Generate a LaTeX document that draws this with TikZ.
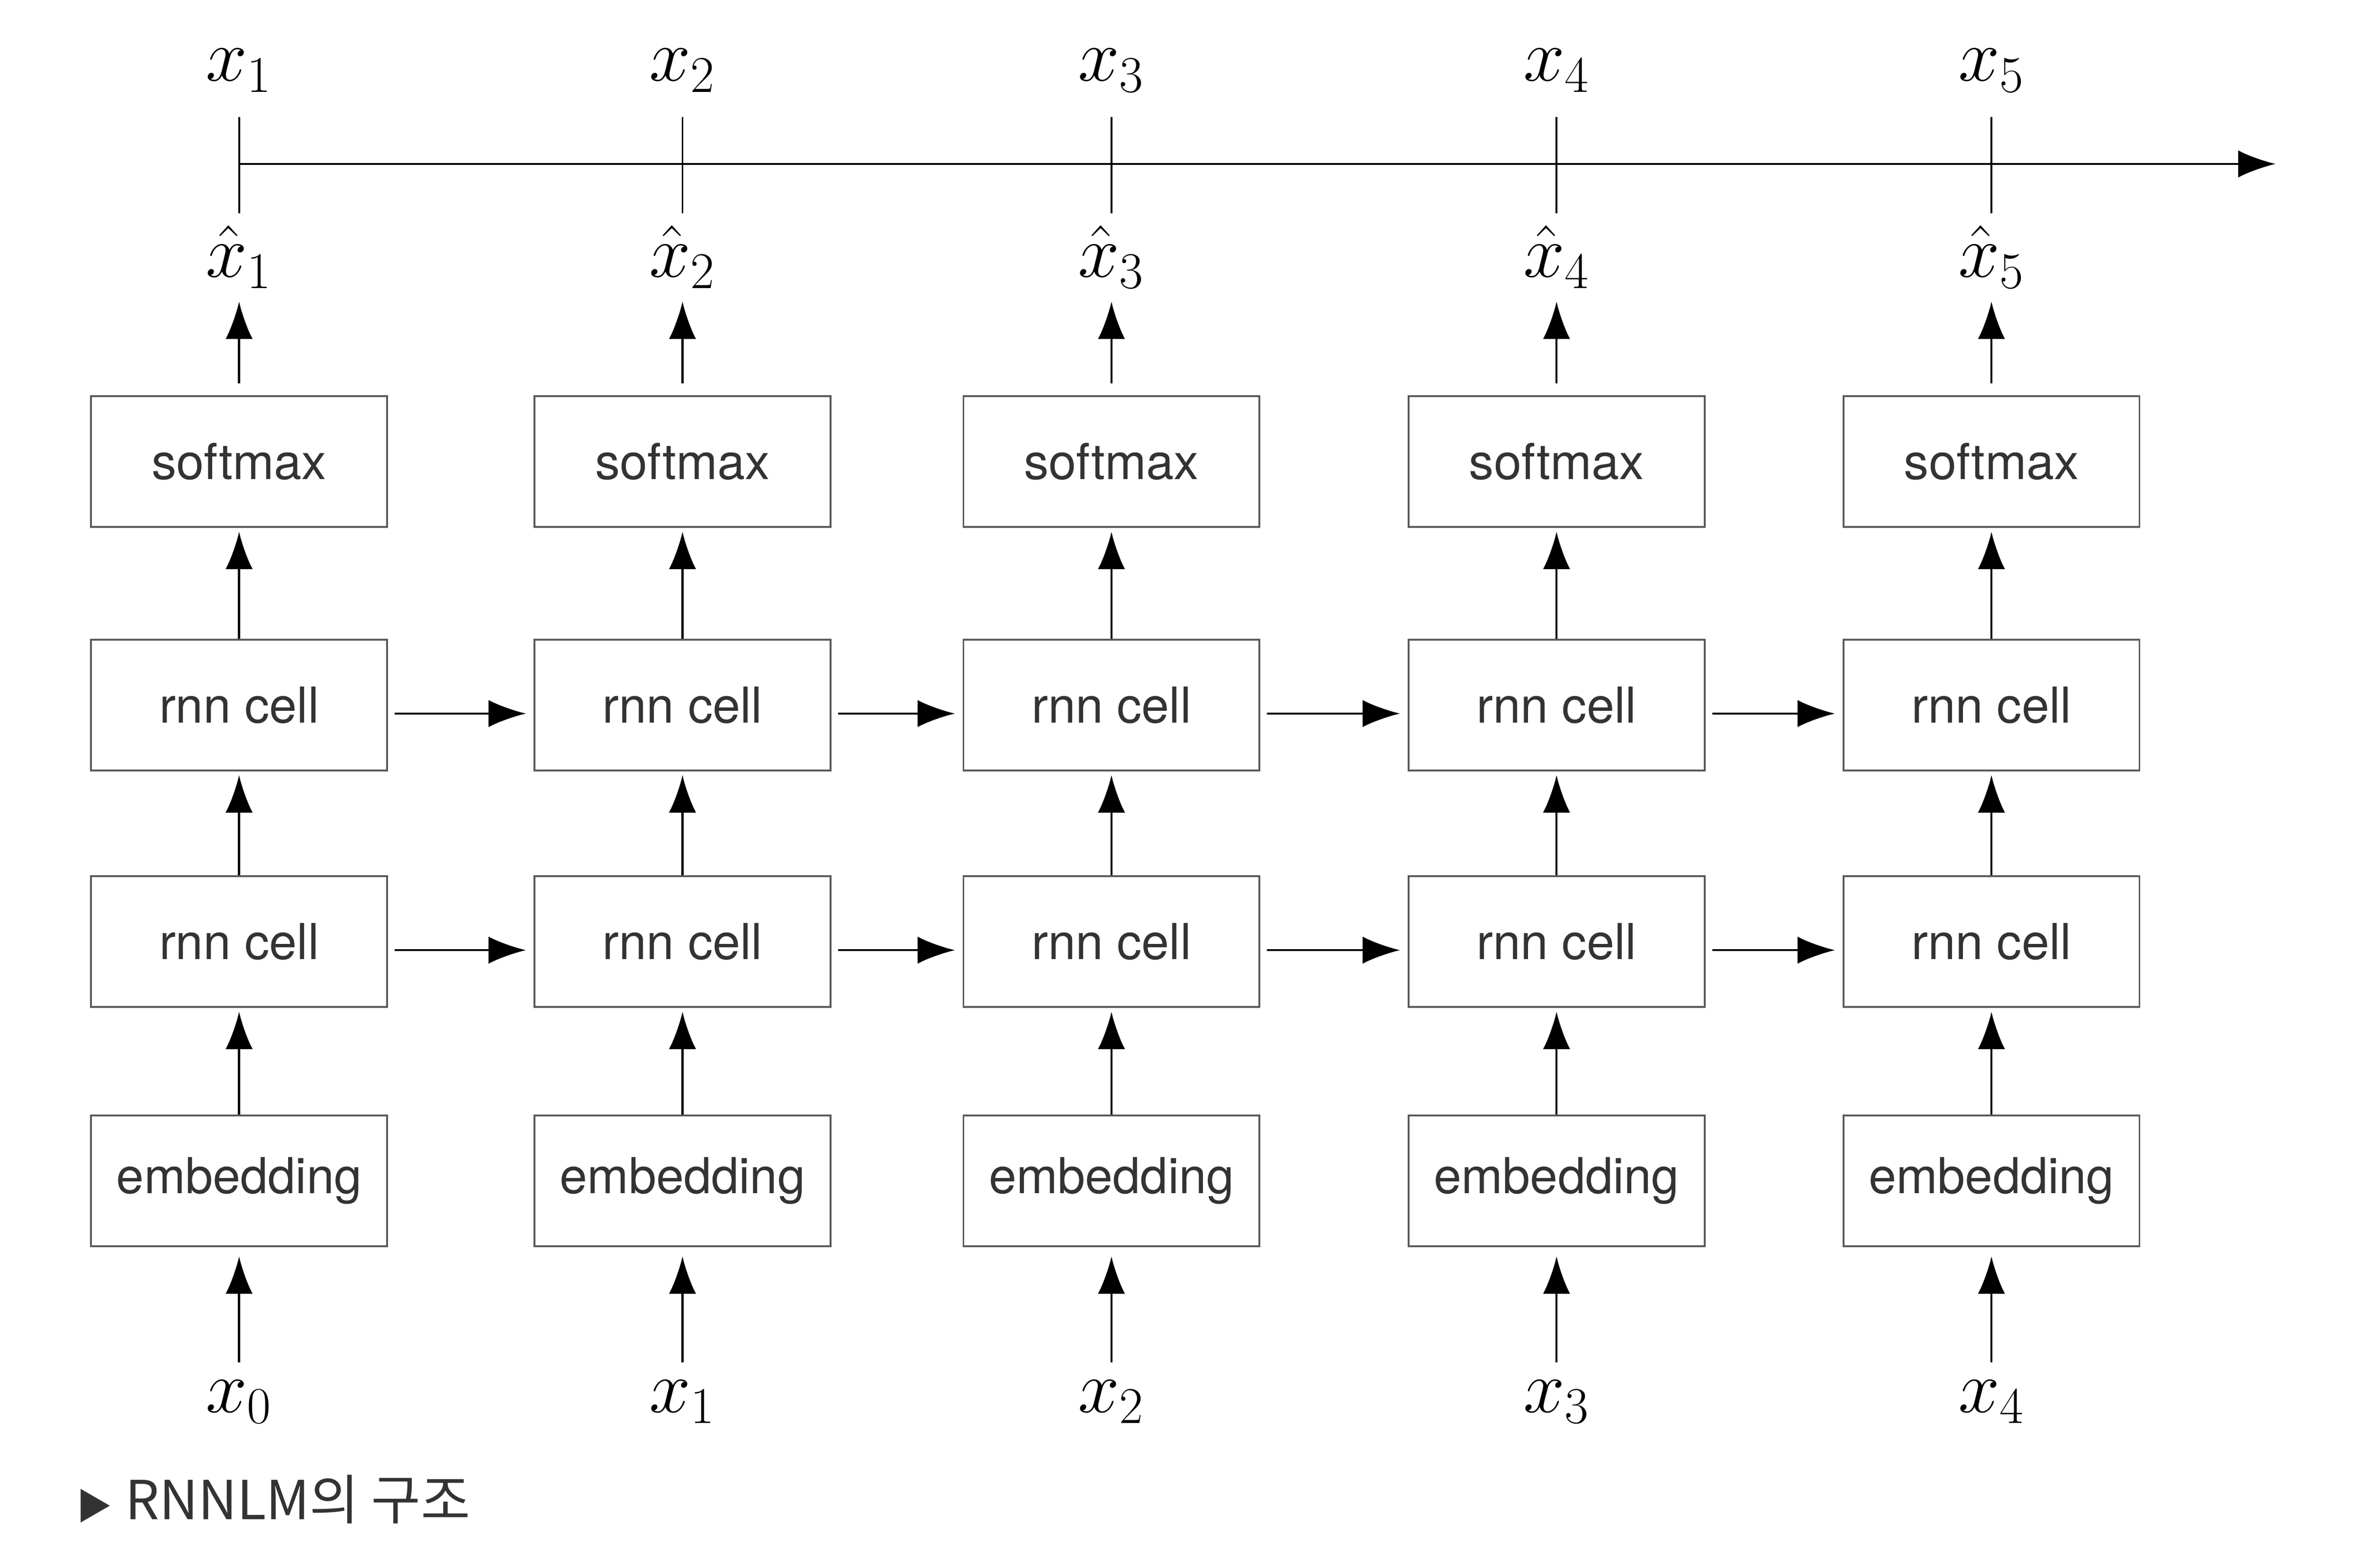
\documentclass[tikz,border=0pt]{standalone}
\usepackage{fontspec}
\setsansfont{TeX Gyre Heros}
\newfontfamily\kofont{Noto Sans CJK KR}
\usepackage{tikz}
\usetikzlibrary{positioning,calc,arrows.meta}

\begin{document}
\begin{tikzpicture}[
    box/.style={draw=black!65, line width=0.6pt, minimum width=3.485cm, minimum height=1.54cm, inner sep=0pt, font=\sffamily\fontsize{16.6}{19}\selectfont, text=black!80},
    lbl/.style={inner sep=0pt, font=\fontsize{23}{27}\selectfont},
    arr/.style={-{Latex[length=0.44cm,width=0.32cm]}, line width=0.7pt}
]
    \useasboundingbox (0,0) rectangle (27.89,18.455);

    % Columns
    \foreach \i/\xx in {1/2.815, 2/8.035, 3/13.085, 4/18.325, 5/23.445} {
        \node[box] (sm\i) at (\xx,13.02) {softmax};
        \node[box] (rb\i) at (\xx,10.155) {rnn cell};
        \node[box] (ra\i) at (\xx,7.37) {rnn cell};
        \node[box] (emb\i) at (\xx,4.555) {embedding};
        \pgfmathtruncatemacro{\j}{\i-1}
        \node[lbl] (in\i) at (\xx,1.955) {$x_{\j}$};
        \node[lbl] (hx\i) at (\xx,15.43) {$\hat{x}_{\i}$};
        \node[lbl] (xt\i) at (\xx,17.625) {$x_{\i}$};
        \coordinate (t\i) at (\xx,16.525);
    }

    % Upward arrows
    \foreach \i in {1,...,5} {
        \draw[arr, shorten <=0.2cm, shorten >=0.11cm] (in\i.north) -- (emb\i.south);
        \draw[arr, shorten >=0.045cm] (emb\i.north) -- (ra\i.south);
        \draw[arr, shorten >=0.045cm] (ra\i.north) -- (rb\i.south);
        \draw[arr, shorten >=0.045cm] (rb\i.north) -- (sm\i.south);
        \draw[arr, shorten <=0.14cm, shorten >=0.15cm] (sm\i.north) -- (hx\i.south);
    }

    % Recurrent arrows
    \foreach \i [evaluate=\i as \n using int(\i+1)] in {1,...,4} {
        \draw[arr, shorten <=0.08cm, shorten >=0.09cm] ([yshift=-0.1cm]ra\i.east) -- ([yshift=-0.1cm]ra\n.west);
        \draw[arr, shorten <=0.08cm, shorten >=0.09cm] ([yshift=-0.1cm]rb\i.east) -- ([yshift=-0.1cm]rb\n.west);
    }

    % Time axis
    \coordinate (tend) at (26.79,16.525);
    \draw[arr] (t1) -- (tend);
    \foreach \i in {1,...,5}
        \draw[line width=0.6pt] ([yshift=0.55cm]t\i) -- ([yshift=-0.58cm]t\i);

    % Caption
    \node[anchor=west, inner sep=0pt, font=\kofont\fontsize{18}{21}\selectfont, text=black!80] (cap) at (0.895,0.805)
        {{\fontsize{12}{14}\selectfont ▶}\hspace{0.15cm}RNNLM의 구조};
\end{tikzpicture}
\end{document}
